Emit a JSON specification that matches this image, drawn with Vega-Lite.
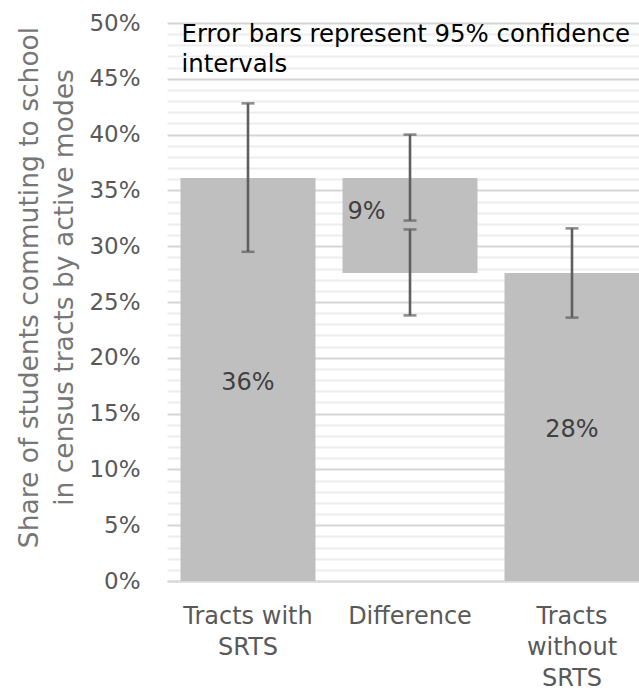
{
  "$schema": "https://vega.github.io/schema/vega-lite/v6.json",
  "width": 472,
  "height": 558,
  "autosize": {"type": "none"},
  "padding": {"left": 167, "top": 23, "right": 0, "bottom": 109},
  "background": "white",
  "config": {"view": {"stroke": null}, "font": "DejaVu Sans"},
  "resolve": {"axis": {"x": "independent", "y": "independent"}},
  "datasets": {
    "bars": [
      {"cat": "Tracts with SRTS", "lo": 0, "hi": 36.1, "label": "36%"},
      {"cat": "Difference", "lo": 27.6, "hi": 36.1, "label": "9%"},
      {"cat": "Tracts without SRTS", "lo": 0, "hi": 27.6, "label": "28%"}
    ],
    "errs": [
      {"cat": "Tracts with SRTS", "elo": 29.5, "ehi": 42.8},
      {"cat": "Difference", "elo": 32.3, "ehi": 40.0},
      {"cat": "Difference", "elo": 23.8, "ehi": 31.5},
      {"cat": "Tracts without SRTS", "elo": 23.6, "ehi": 31.6}
    ]
  },
  "layer": [
    {
      "data": {"name": "bars"},
      "mark": {"type": "bar", "color": "#bfbfbf"},
      "encoding": {
        "x": {
          "field": "cat",
          "type": "nominal",
          "scale": {
            "domain": ["Tracts with SRTS", "Difference", "Tracts without SRTS"],
            "range": [0, 486],
            "paddingInner": 0.1667,
            "paddingOuter": 0.0833
          },
          "axis": {
            "title": null,
            "ticks": false,
            "domainColor": "#d9d9d9",
            "domainWidth": 2,
            "labelFontSize": 24,
            "labelColor": "#595959",
            "labelPadding": 23,
            "labelLineHeight": 31,
            "labelAngle": 0,
            "labelLimit": 400,
            "labelExpr": "datum.value == 'Tracts with SRTS' ? ['Tracts with', 'SRTS'] : datum.value == 'Tracts without SRTS' ? ['Tracts', 'without', 'SRTS'] : datum.value"
          }
        },
        "y": {
          "field": "hi",
          "type": "quantitative",
          "scale": {"domain": [0, 50], "nice": false},
          "axis": {
            "values": [0,1,2,3,4,5,6,7,8,9,10,11,12,13,14,15,16,17,18,19,20,21,22,23,24,25,26,27,28,29,30,31,32,33,34,35,36,37,38,39,40,41,42,43,44,45,46,47,48,49,50],
            "ticks": false,
            "domain": false,
            "labelExpr": "datum.value % 5 === 0 ? datum.value + '%' : ''",
            "labelFontSize": 23,
            "labelColor": "#595959",
            "labelPadding": 27,
            "labelOverlap": false,
            "labelFlush": false,
            "gridColor": {"condition": {"test": "datum.value % 5 === 0", "value": "#d6d6d6"}, "value": "#ededed"},
            "gridWidth": 2,
            "title": ["Share of students commuting to school", "in census tracts by active modes"],
            "titleFontSize": 26.5,
            "titleFontWeight": "normal",
            "titleColor": "#767676",
            "titleLineHeight": 35,
            "titleAngle": 270,
            "titleAlign": "center",
            "titleBaseline": "alphabetic",
            "titleX": -130,
            "titleY": 264,
            "titleLimit": 1000
          }
        },
        "y2": {"field": "lo"}
      }
    },
    {
      "data": {"name": "errs"},
      "mark": {"type": "rule", "color": "#5f5f5f", "strokeWidth": 2.6},
      "encoding": {
        "x": {"field": "cat", "type": "nominal", "axis": null},
        "y": {"field": "elo", "type": "quantitative", "axis": null},
        "y2": {"field": "ehi"}
      }
    },
    {
      "data": {"name": "errs"},
      "mark": {"type": "tick", "color": "#5f5f5f", "size": 13, "thickness": 2.6},
      "encoding": {
        "x": {"field": "cat", "type": "nominal", "axis": null},
        "y": {"field": "elo", "type": "quantitative", "axis": null}
      }
    },
    {
      "data": {"name": "errs"},
      "mark": {"type": "tick", "color": "#5f5f5f", "size": 13, "thickness": 2.6},
      "encoding": {
        "x": {"field": "cat", "type": "nominal", "axis": null},
        "y": {"field": "ehi", "type": "quantitative", "axis": null}
      }
    },
    {
      "data": {"name": "bars"},
      "transform": [
        {"filter": "datum.cat !== 'Difference'"},
        {"fold": ["lo", "hi"], "as": ["end", "v"]},
        {"aggregate": [{"op": "mean", "field": "v", "as": "mid"}], "groupby": ["cat", "label"]}
      ],
      "mark": {"type": "text", "fontSize": 24, "color": "#404040", "baseline": "middle", "dy": 3},
      "encoding": {
        "x": {"field": "cat", "type": "nominal", "axis": null},
        "y": {"field": "mid", "type": "quantitative", "axis": null},
        "text": {"field": "label"}
      }
    },
    {
      "data": {"name": "bars"},
      "transform": [{"filter": "datum.cat === 'Difference'"}],
      "mark": {"type": "text", "fontSize": 24, "color": "#404040", "align": "left", "baseline": "alphabetic", "dx": 5, "dy": 41},
      "encoding": {
        "x": {"field": "cat", "type": "nominal", "bandPosition": 0, "axis": null},
        "y": {"field": "hi", "type": "quantitative", "axis": null},
        "text": {"field": "label"}
      }
    },
    {
      "data": {"values": [{}]},
      "mark": {
        "type": "text",
        "text": ["Error bars represent 95% confidence", "intervals"],
        "align": "left",
        "baseline": "alphabetic",
        "fontSize": 24.4,
        "lineHeight": 30,
        "color": "#000000",
        "dx": 1,
        "dy": 19
      },
      "encoding": {
        "x": {"datum": "Tracts with SRTS", "type": "nominal", "bandPosition": 0, "axis": null},
        "y": {"datum": 50, "type": "quantitative", "axis": null}
      }
    }
  ]
}
